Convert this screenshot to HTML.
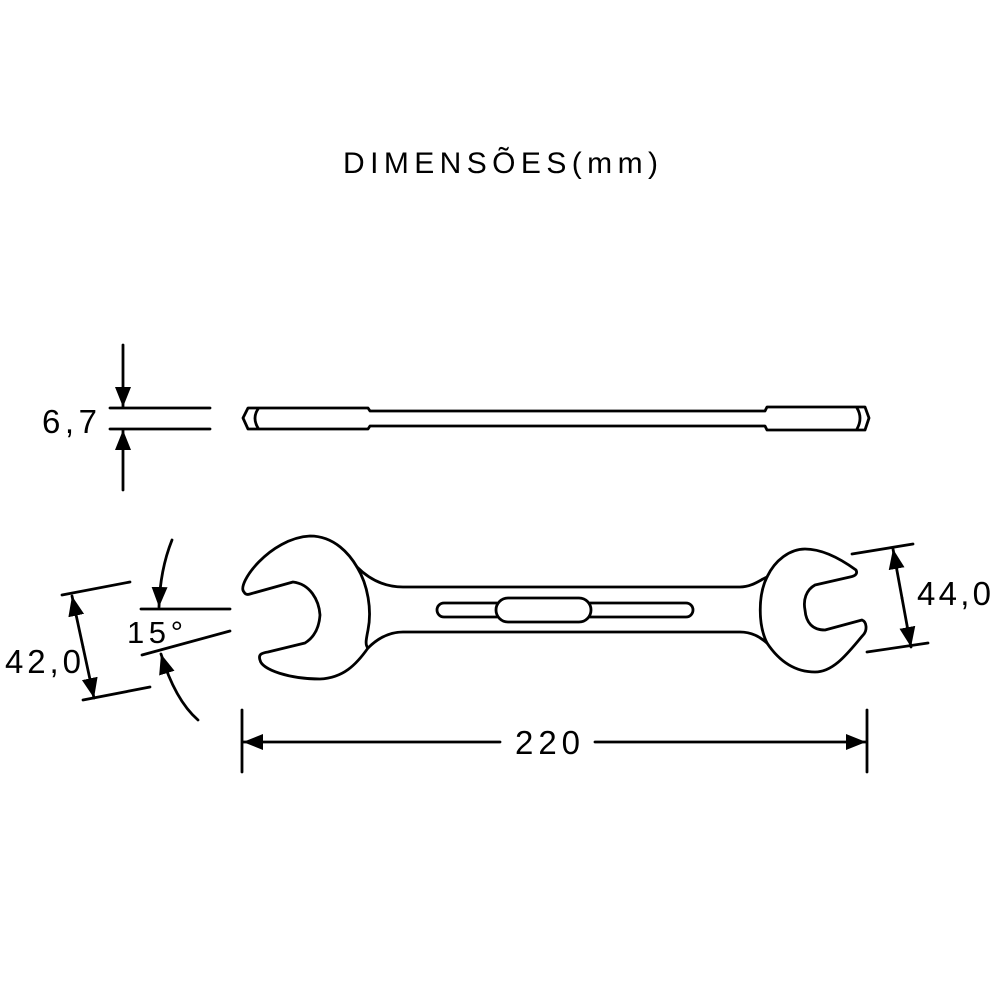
<!DOCTYPE html>
<html><head><meta charset="utf-8"><style>html,body{margin:0;padding:0;background:#fff}svg{display:block}</style></head><body>
<svg width="1000" height="1000" viewBox="0 0 1000 1000" xmlns="http://www.w3.org/2000/svg">
<defs>
<marker id="ah" viewBox="0 0 10 10" refX="10" refY="5" markerWidth="20" markerHeight="20" markerUnits="userSpaceOnUse" orient="auto">
<path d="M0,1 L10,5 L0,9 Z" fill="#000"/></marker>
</defs>
<g font-family="Liberation Sans, Arial, sans-serif" fill="#000">
<text x="343" y="173" font-size="30" textLength="315" lengthAdjust="spacing">DIMENSÕES(mm)</text>
<text x="42" y="433" font-size="33" textLength="55" lengthAdjust="spacing">6,7</text>
<text x="5" y="673" font-size="33" textLength="76" lengthAdjust="spacing">42,0</text>
<text x="917" y="605" font-size="33" textLength="74" lengthAdjust="spacing">44,0</text>
<text x="127" y="643" font-size="31" textLength="56" lengthAdjust="spacing">15°</text>
<text x="515" y="754" font-size="33" textLength="65" lengthAdjust="spacing">220</text>
</g>
<g fill="none" stroke="#000" stroke-width="2.8" stroke-linejoin="round" stroke-linecap="round">
<path d="M248,408 L368,408 L370,411 L765,411 L767,407 L865,407 L869,418 L865,430 L767,430 L765,426 L370,426 L368,429 L248,429 L243,418 Z"/>
<path d="M258,409 Q252,418 258,428"/>
<path d="M857,408 Q863,418 857,429"/>
<line x1="110" y1="408" x2="210" y2="408"/>
<line x1="110" y1="429" x2="210" y2="429"/>
<line x1="123" y1="345" x2="123" y2="407" marker-end="url(#ah)"/>
<line x1="123" y1="490" x2="123" y2="430" marker-end="url(#ah)"/>
<path d="M244,592 C236,584 270,538 310,536 C335,536 350,555 357,567 C370,580 385,587 403,587 L740,587 C752,587 760,580 767,577 C775,560 790,549 805,549 C825,549 845,562 856,570 C858,574 855,576 850,577 L815,585 C806,590 803,600 805,610 C806,622 812,630 825,630 L862,620 C867,622 867,630 864,634 C850,650 835,672 815,672 C790,672 775,655 767,643 C760,637 752,632 740,632 L403,632 C388,632 376,640 368,648 C356,665 343,678 320,679 C290,679 262,670 260,660 C258,654 262,653 268,652 L305,643 C313,638 319,630 320,615 C319,600 310,584 293,582 L250,594 C247,595 245,594 244,592 Z"/>
<path d="M357,567 C368,585 372,610 368,630 C366,640 365,645 368,648"/>
<path d="M767,577 C758,595 758,625 767,643"/>
<path d="M444,603 L497,603 M497,617 L444,617 A7,7 0 0 1 444,603"/>
<path d="M590,603 L686,603 A7,7 0 0 1 686,617 L590,617"/>
<rect x="496" y="598" width="95" height="24" rx="12"/>
<line x1="62" y1="595" x2="130" y2="582"/>
<line x1="83" y1="700" x2="150" y2="687"/>
<line x1="83" y1="647" x2="72" y2="596" marker-end="url(#ah)"/>
<line x1="83" y1="647" x2="94" y2="698" marker-end="url(#ah)"/>
<line x1="141" y1="609" x2="230" y2="609"/>
<line x1="142" y1="655" x2="230" y2="631"/>
<path d="M172,540 Q160,570 159,607" marker-end="url(#ah)"/>
<path d="M198,720 Q175,700 161,654" marker-end="url(#ah)"/>
<line x1="852" y1="554" x2="913" y2="544"/>
<line x1="867" y1="652" x2="928" y2="643"/>
<line x1="902" y1="598" x2="893" y2="549" marker-end="url(#ah)"/>
<line x1="902" y1="598" x2="911" y2="647" marker-end="url(#ah)"/>
<line x1="242" y1="710" x2="242" y2="772"/>
<line x1="867" y1="710" x2="867" y2="772"/>
<line x1="500" y1="742" x2="243" y2="742" marker-end="url(#ah)"/>
<line x1="595" y1="742" x2="866" y2="742" marker-end="url(#ah)"/>
</g>
</svg>
</body></html>
